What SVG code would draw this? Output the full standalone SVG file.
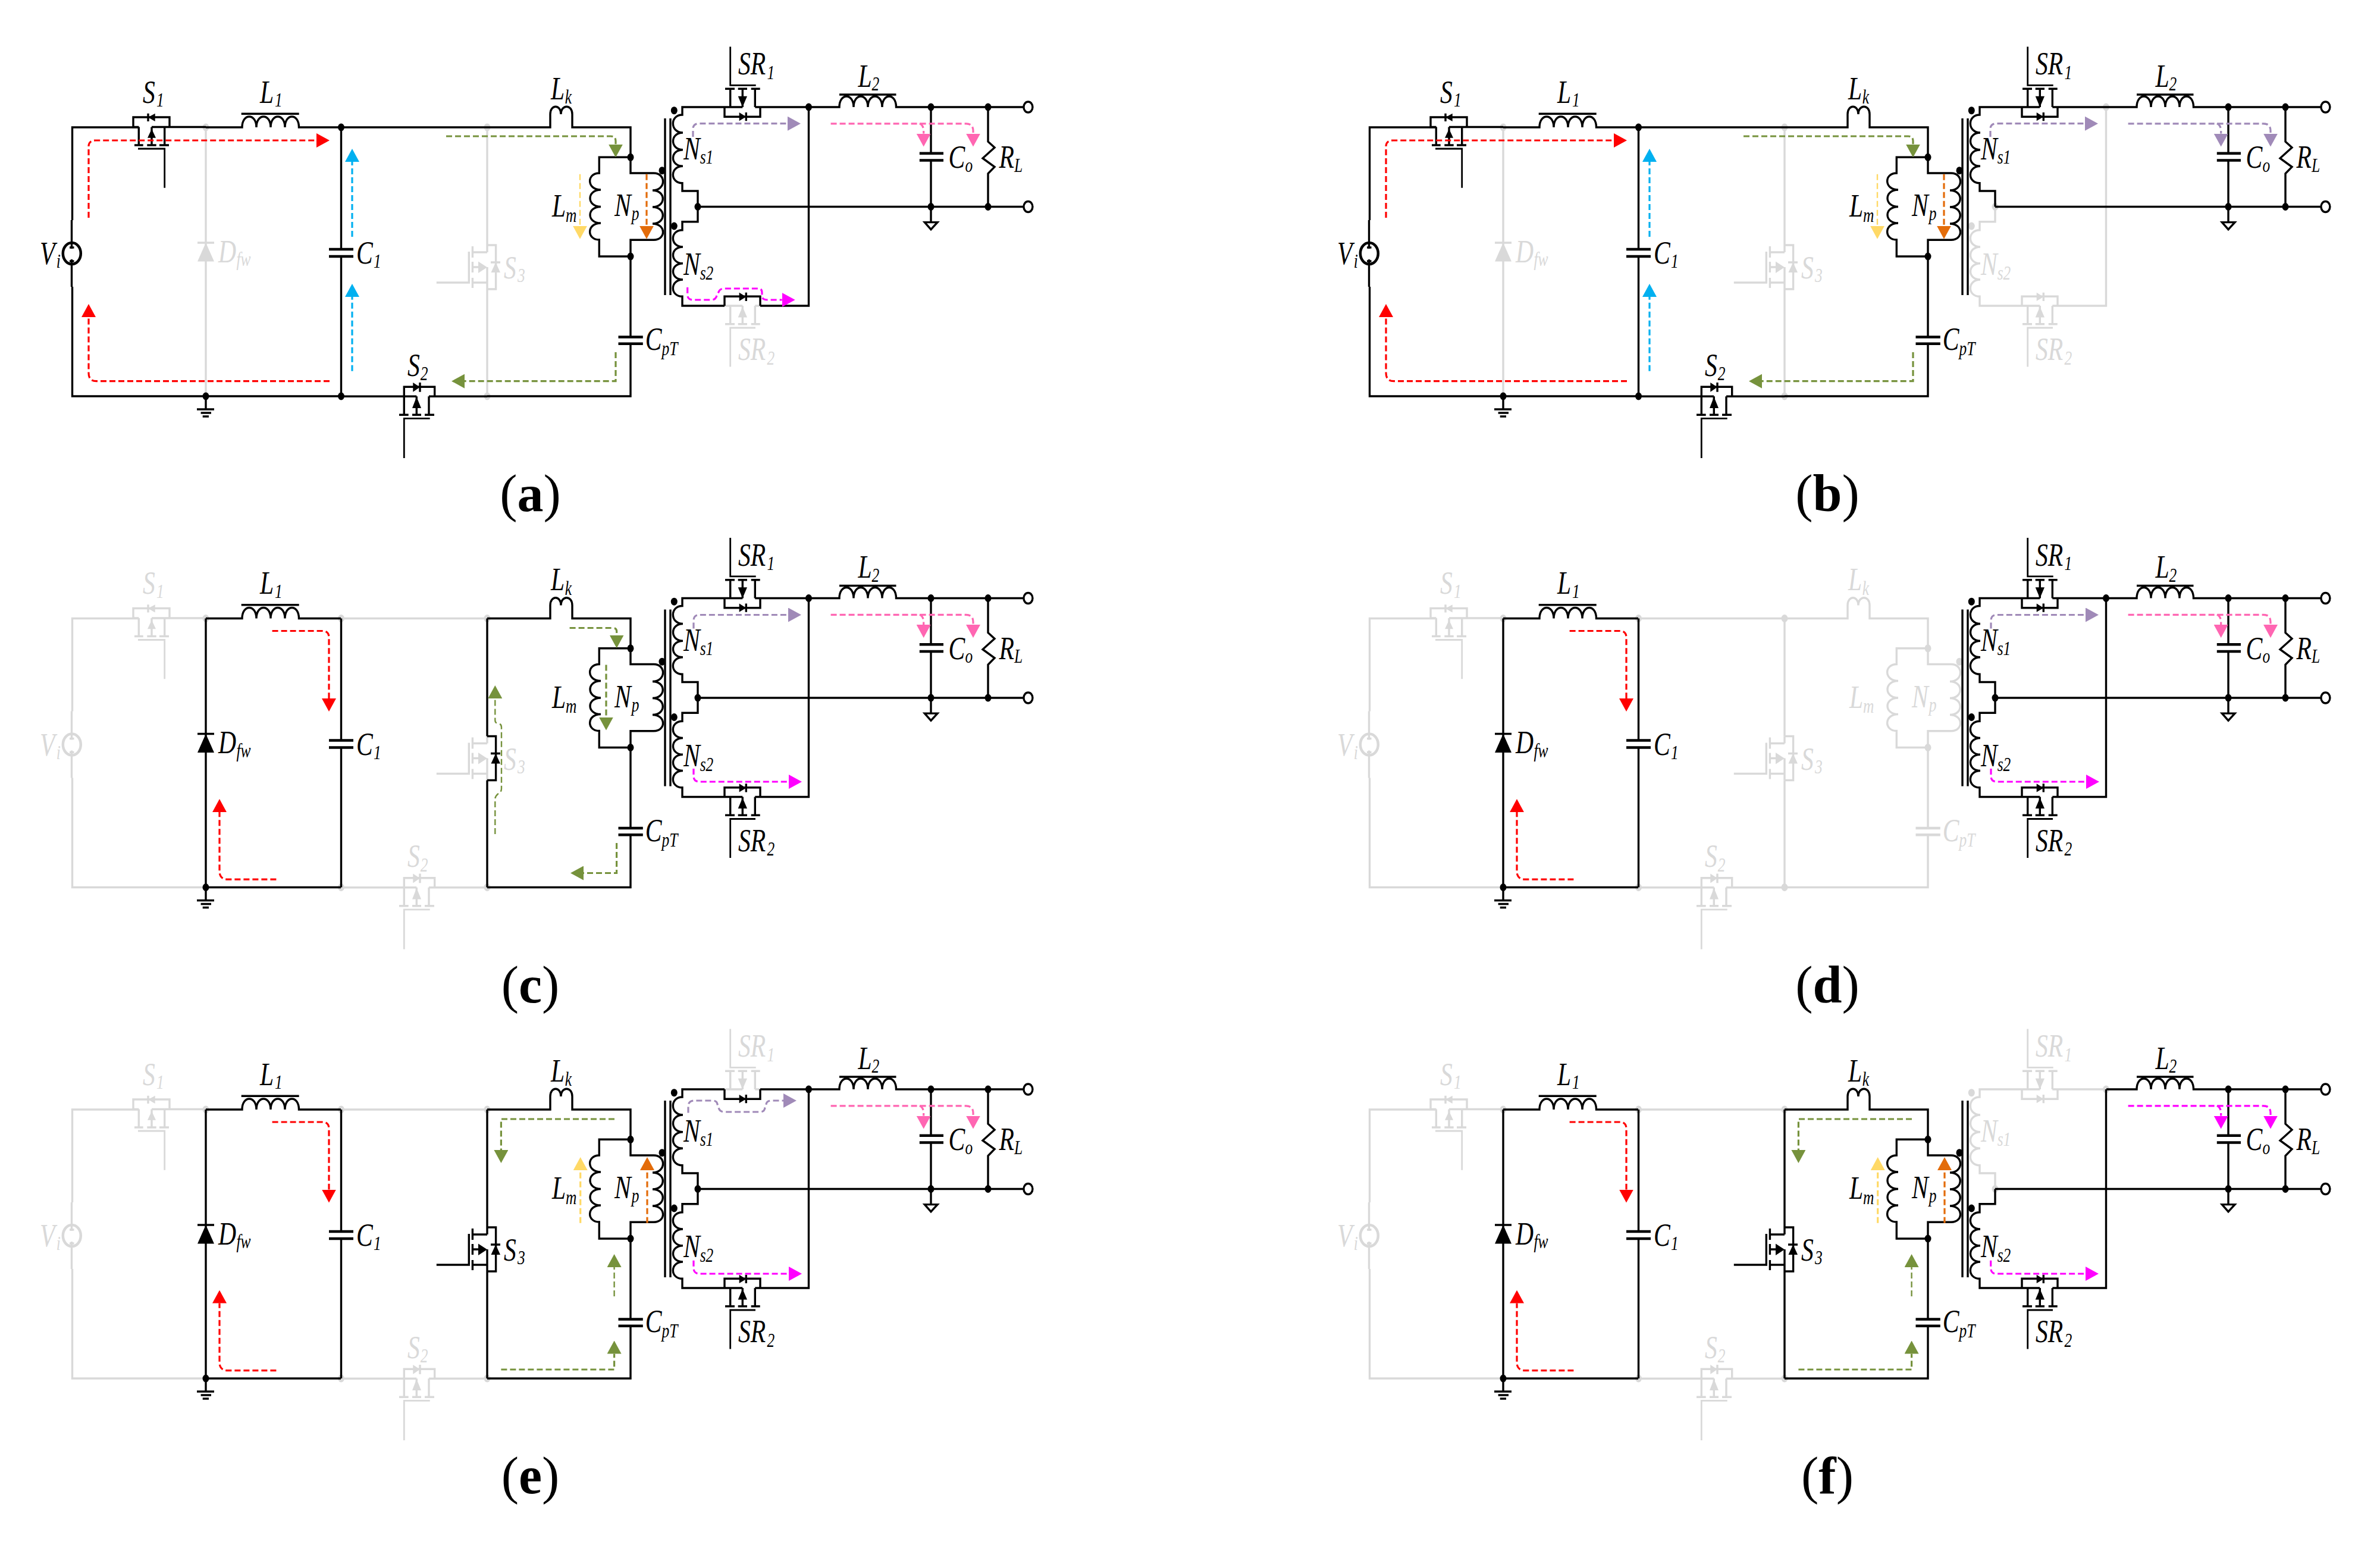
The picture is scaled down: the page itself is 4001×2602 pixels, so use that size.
<svg xmlns="http://www.w3.org/2000/svg" width="4001" height="2602" viewBox="0 0 4001 2602">
<style>
.on{color:#000}.off{color:#d9d9d9}
.w{fill:none;stroke:currentColor;stroke-width:3.4}
.b{fill:none;stroke:currentColor;stroke-width:4.5}
.n{fill:none;stroke:currentColor;stroke-width:2.8}
.f{fill:currentColor;stroke:none}
.t{font:italic 54px "Liberation Serif",serif;fill:currentColor}
.s{font-size:33px}
.cap{font:88px "Liberation Serif",serif;text-anchor:middle;fill:#000}
.cap tspan{font-weight:bold}
.a{fill:none;stroke-width:3.2;stroke-dasharray:10 5}
.red{stroke:#f00;marker-end:url(#hr)}
.blu{stroke:#00b0f0;marker-end:url(#hb)}
.grn{stroke:#76923c;marker-end:url(#hg)}
.yel{stroke:#ffd966;marker-end:url(#hy)}
.org{stroke:#e36c0a;marker-end:url(#ho)}
.pur{stroke:#a08ab8;marker-end:url(#hp)}
.pnk{stroke:#ff66b2;marker-end:url(#hk)}
.mag{stroke:#f0f;marker-end:url(#hm)}
.hair{stroke-width:2.4}
</style>
<defs>
<marker id="hr" markerUnits="userSpaceOnUse" markerWidth="22" markerHeight="24" viewBox="0 -12 22 24" refX="0" refY="0" orient="auto"><path d="M0-12L22 0L0 12z" fill="#f00"/></marker>
<marker id="hb" markerUnits="userSpaceOnUse" markerWidth="22" markerHeight="24" viewBox="0 -12 22 24" refX="0" refY="0" orient="auto"><path d="M0-12L22 0L0 12z" fill="#00b0f0"/></marker>
<marker id="hg" markerUnits="userSpaceOnUse" markerWidth="22" markerHeight="24" viewBox="0 -12 22 24" refX="0" refY="0" orient="auto"><path d="M0-12L22 0L0 12z" fill="#76923c"/></marker>
<marker id="hy" markerUnits="userSpaceOnUse" markerWidth="22" markerHeight="24" viewBox="0 -12 22 24" refX="0" refY="0" orient="auto"><path d="M0-12L22 0L0 12z" fill="#ffd966"/></marker>
<marker id="ho" markerUnits="userSpaceOnUse" markerWidth="22" markerHeight="24" viewBox="0 -12 22 24" refX="0" refY="0" orient="auto"><path d="M0-12L22 0L0 12z" fill="#e36c0a"/></marker>
<marker id="hp" markerUnits="userSpaceOnUse" markerWidth="22" markerHeight="24" viewBox="0 -12 22 24" refX="0" refY="0" orient="auto"><path d="M0-12L22 0L0 12z" fill="#a08ab8"/></marker>
<marker id="hk" markerUnits="userSpaceOnUse" markerWidth="22" markerHeight="24" viewBox="0 -12 22 24" refX="0" refY="0" orient="auto"><path d="M0-12L22 0L0 12z" fill="#ff66b2"/></marker>
<marker id="hm" markerUnits="userSpaceOnUse" markerWidth="22" markerHeight="24" viewBox="0 -12 22 24" refX="0" refY="0" orient="auto"><path d="M0-12L22 0L0 12z" fill="#f0f"/></marker>

<g id="Vi"><path class="w" d="M121.5 370V214H233.3M121.5 482V666H346M120.5 370V418M120.5 436V482M117 416H124.5M117 439H124.5"/><ellipse class="b" cx="120.8" cy="426" rx="15" ry="18"/></g>
<g id="S1"><path class="w" d="M255 213.5H346M233.3 213.5H224V197H285V213.5M233.3 213.5V244M226 244H240.7M255 213.5V244M247.3 244H262.7M276.7 213.5V244M268 244H284M249 190.7V204"/><path class="f" d="M260.7 190.7V204L249 197.3zM255 216.7L262 231.7H248z"/><path class="n" d="M232 250H276.7V315.7"/></g>
<g id="L1"><path class="w" d="M346 214H407C407 190 431 190 431 214C431 190 455 190 455 214C455 190 479 190 479 214C479 190 502.5 190 502.5 214H573M405.7 191.3H502.7M346 666H573"/></g>
<path id="Dfw" class="w" d="M346 214V666M332 408H360"/>
<path id="DfwT" class="f" d="M346 408L360 439.5H332z"/>
<g id="C1"><path class="w" d="M573.5 214V419M573.5 431V666"/><path class="b" d="M553 419H594M553 431H594"/></g>
<g id="Gnd"><path class="w" d="M346 666V688M331 688H360M337.6 694H355M340.7 700H351"/><ellipse class="f" cx="346" cy="666" rx="5.5" ry="6.5"/></g>
<ellipse id="d346" class="f" cx="346" cy="214" rx="5.5" ry="6.5"/>
<g id="d573"><ellipse class="f" cx="573.5" cy="214" rx="5.5" ry="6.5"/><ellipse class="f" cx="573.5" cy="666" rx="5.5" ry="6.5"/></g>
<g id="d819"><ellipse class="f" cx="819" cy="214" rx="5.5" ry="6.5"/><ellipse class="f" cx="819" cy="666" rx="5.5" ry="6.5"/></g>
<g id="S2"><path class="w" d="M573 214H819M573 666.3H700.3M721 666.3H819M679.3 666.3V650.3H730.7V666.3M679.3 666.3V697.3M671 697.3H686.7M700.3 666.3V697.3M693 697.3H708M721 666.3V697.3M714 697.3H730M706 643V658.7"/><path class="f" d="M694.3 643V658.7L706 650.8zM700.3 667L708 686H693z"/><path class="n" d="M722.7 703.3H679.3V770"/></g>
<path id="rail" class="w" d="M819 214V412M819 486V666"/>
<g id="S3m"><path class="w" d="M819 412V424M819 449V486M794.4 424H819M794.4 475H819M794.4 449H806M794.4 414V433M794.4 440V458M794.4 467V484M788.3 423V475H733.8"/><path class="f" d="M804 439.6V459L819 449.3z"/></g>
<g id="S3d"><path class="w" d="M819 412H833.6V486H819M825 441H841"/><path class="f" d="M833.3 441L841 458H825.5z"/></g>
<g id="Lk"><path class="w" d="M819 214H925V192C925 175 943 175 943 192C943 175 962 175 962 192V214H1060V264.3"/></g>
<g id="Lm"><path class="w" d="M1060 264.3H1007.3V291C986 291 986 319 1010 319C986 319 986 347.5 1010 347.5C986 347.5 986 375 1010 375C986 375 986 403 1007.3 403V431H1060"/><ellipse class="f" cx="1060" cy="264.3" rx="5.5" ry="6.5"/><ellipse class="f" cx="1060" cy="431" rx="5.5" ry="6.5"/></g>
<g id="Np"><path class="w" d="M1060 264.3V291H1099C1120 291 1120 320 1097 320C1120 320 1120 348 1097 348C1120 348 1120 376 1097 376C1120 376 1120 403.3 1099 403.3H1060V431"/><ellipse class="f" cx="1113" cy="286.7" rx="5.5" ry="6.5"/></g>
<g id="CpT"><path class="w" d="M1060 431V566.6M1060 577.7V666H819"/><path class="b" d="M1039.5 566.6H1080.8M1039.5 577.7H1080.8"/></g>
<path id="Core" class="w" d="M1118 199V496M1127 199V496"/>
<g id="Ns1"><path class="w" d="M1278 180H1360M1218 180H1147V193C1126 193 1126 223 1148 223C1126 223 1126 251.7 1148 251.7C1126 251.7 1126 279.3 1148 279.3C1126 279.3 1126 307.7 1147 307.7V321H1173V347.5"/><ellipse class="f" cx="1133.3" cy="185.7" rx="5.5" ry="6.5"/></g>
<g id="Ns2"><path class="w" d="M1173 347.5V372.7H1147V386.7C1126 386.7 1126 415 1148 415C1126 415 1126 442.7 1148 442.7C1126 442.7 1126 470 1148 470C1126 470 1126 498.3 1147 498.3V514H1218M1278 514H1359.5V180"/><ellipse class="f" cx="1133.3" cy="380" rx="5.5" ry="6.5"/></g>
<g id="SR1m"><path class="w" d="M1218 180H1248.3M1269.3 180H1278M1227.7 180V149.3M1219 149.3H1235M1248.3 180V149.3M1240.7 149.3H1256M1269.3 180V149.3M1262.7 149.3H1277.7"/><path class="f" d="M1248.3 180L1256 161.7H1240.7z"/><path class="n" d="M1270.7 143.3H1227.7V78.4"/></g>
<g id="SR1d"><path class="w" d="M1218 180V196.3H1278V180M1254.3 189V203.3"/><path class="f" d="M1242.7 189V203.3L1254.3 196.2z"/></g>
<g id="SR2m"><path class="w" d="M1218 514H1248.3M1269.3 514H1278M1227.7 514V544.7M1219 544.7H1235M1248.3 514V544.7M1240.7 544.7H1256M1269.3 514V544.7M1262.7 544.7H1277.7"/><path class="f" d="M1248.3 515.6L1256 533.6H1240.7z"/><path class="n" d="M1270 551H1227.7V616.5"/></g>
<g id="SR2d"><path class="w" d="M1218 514V498.3H1278V514M1254.3 491.7V506"/><path class="f" d="M1242.7 491.7V506L1254.3 498.9z"/></g>
<ellipse id="dC" class="f" cx="1173" cy="347.5" rx="5.5" ry="6.5"/>
<ellipse id="dR" class="f" cx="1359.5" cy="180" rx="5.5" ry="6.5"/>
<g id="L2"><path class="w" d="M1360 180H1411C1411 156 1435 156 1435 180C1435 156 1459 156 1459 180C1459 156 1483 156 1483 180C1483 156 1506.5 156 1506.5 180H1565M1411 159H1506.5"/></g>
<g id="Co"><path class="w" d="M1565 180V257.8M1565 269.4V373.6M1554.4 373.6H1576L1565 385.7z"/><path class="b" d="M1545.8 257.8H1586M1545.8 269.4H1586"/><ellipse class="f" cx="1565" cy="180" rx="5.5" ry="6.5"/><ellipse class="f" cx="1565" cy="347.5" rx="5.5" ry="6.5"/></g>
<g id="RL"><path class="w" d="M1661 180V238L1672 248L1652 266L1672 280.5L1661 291.7V347.5"/><ellipse class="f" cx="1661" cy="180" rx="5.5" ry="6.5"/><ellipse class="f" cx="1661" cy="347.5" rx="5.5" ry="6.5"/></g>
<g id="Out"><path class="w" d="M1565 180H1720.7M1173 347.5H1720.7"/><ellipse class="w" cx="1728.4" cy="180" rx="7.5" ry="9"/><ellipse class="w" cx="1728.4" cy="347.5" rx="7.5" ry="9"/></g>
</defs>
<rect width="4001" height="2602" fill="#fff"/>

<!-- panel a -->
<g id="panel-a">
<g id="a-off-dots" class="off"><use href="#d346"/><use href="#d819"/></g>
<g id="a-Dfw" class="off"><use href="#Dfw"/><use href="#DfwT"/><text class="t" transform="translate(367 440.5) scale(.77 1)">D<tspan class="s" x="39.5" y="6.5">fw</tspan></text></g>
<g id="a-S3" class="off"><use href="#rail"/><use href="#S3m"/><use href="#S3d"/><text class="t" transform="translate(847 468) scale(.77 1)">S<tspan class="s" x="29.9" y="6">3</tspan></text></g>
<g id="a-SR2m" class="off"><use href="#SR2m"/><text class="t" transform="translate(1241 605) scale(.77 1)">SR<tspan class="s" x="62.9" y="7.6">2</tspan></text></g>
<g id="a-Vi" class="on"><use href="#Vi"/><text class="t" transform="translate(67 444) scale(.77 1)">V<tspan class="s" x="36" y="6">i</tspan></text></g>
<g id="a-S1" class="on"><use href="#S1"/><text class="t" transform="translate(240 172.5) scale(.77 1)">S<tspan class="s" x="29.9" y="6.5">1</tspan></text></g>
<g id="a-L1" class="on"><use href="#L1"/><text class="t" transform="translate(437 172.5) scale(.77 1)">L<tspan class="s" x="32.5" y="6.5">1</tspan></text></g>
<g id="a-C1" class="on"><use href="#C1"/><use href="#d573"/><text class="t" transform="translate(599 443) scale(.77 1)">C<tspan class="s" x="37.7" y="7">1</tspan></text></g>
<g id="a-Gnd" class="on"><use href="#Gnd"/></g>
<g id="a-S2" class="on"><use href="#S2"/><text class="t" transform="translate(685 631.7) scale(.77 1)">S<tspan class="s" x="28.2" y="7.3">2</tspan></text></g>
<g id="a-Lk" class="on"><use href="#Lk"/><text class="t" transform="translate(926 166.6) scale(.77 1)">L<tspan class="s" x="31" y="7.4">k</tspan></text></g>
<g id="a-Lm" class="on"><use href="#Lm"/><text class="t" transform="translate(928 364.4) scale(.77 1)">L<tspan class="s" x="30" y="8.2">m</tspan></text></g>
<g id="a-Np" class="on"><use href="#Np"/><text class="t" transform="translate(1033 363) scale(.77 1)">N<tspan class="s" x="37.3" y="7">p</tspan></text></g>
<g id="a-CpT" class="on"><use href="#CpT"/><text class="t" transform="translate(1084.8 588.4) scale(.77 1)">C<tspan class="s" x="36" y="8.6">pT</tspan></text></g>
<g id="a-Core" class="on"><use href="#Core"/></g>
<g id="a-Ns1" class="on"><use href="#Ns1"/><text class="t" transform="translate(1149 268) scale(.77 1)">N<tspan class="s" x="36" y="7">s1</tspan></text></g>
<g id="a-Ns2" class="on"><use href="#Ns2"/><text class="t" transform="translate(1149 462.3) scale(.77 1)">N<tspan class="s" x="36" y="7.7">s2</tspan></text></g>
<g id="a-SR1" class="on"><use href="#SR1m"/><use href="#SR1d"/><text class="t" transform="translate(1241 125.4) scale(.77 1)">SR<tspan class="s" x="62.9" y="7.3">1</tspan></text></g>
<g id="a-SR2d" class="on"><use href="#SR2d"/></g>
<g id="a-dots" class="on"><use href="#dC"/><use href="#dR"/></g>
<g id="a-L2" class="on"><use href="#L2"/><text class="t" transform="translate(1442.5 145.8) scale(.77 1)">L<tspan class="s" x="30" y="6.2">2</tspan></text></g>
<g id="a-Co" class="on"><use href="#Co"/><text class="t" transform="translate(1594.6 282) scale(.77 1)">C<tspan class="s" x="36.2" y="6.8">o</tspan></text></g>
<g id="a-RL" class="on"><use href="#RL"/><text class="t" transform="translate(1679.6 282) scale(.77 1)">R<tspan class="s" x="33" y="6.8">L</tspan></text></g>
<g id="a-Out" class="on"><use href="#Out"/></g>
<g id="a-connectors">
<path class="a red" d="M149 366V246Q149 236 161 236H532"/>
<path class="a red" d="M554 640.7H162Q149 640.7 149 627V533"/>
<path class="a blu" d="M592 398V272"/>
<path class="a blu" d="M592 623.7V499"/>
<path class="a grn" d="M750 229H1027Q1035 229 1035 237V242.6"/>
<path class="a grn" d="M1035 592V640.7H781"/>
<path class="a yel hair" d="M975 292.7V379.7"/>
<path class="a org" d="M1087 292.7V379.7"/>
<path class="a pur" d="M1165 230V217Q1165 207.7 1175 207.7H1324"/>
<path class="a mag" d="M1155.7 483V495Q1155.7 504 1165 504H1196Q1203 504 1205 497L1209 489Q1211 485 1218 485H1275Q1281 485 1281 492V497Q1281 504 1290 504H1314.7"/>
<path class="a pnk" d="M1396.6 207.8H1624Q1636 207.8 1636 220V224.6"/>
<path class="a pnk" d="M1545.8 207.8Q1552.7 210 1552.7 221V224.6"/>
</g>
<text class="cap" x="891.5" y="859">(<tspan>a</tspan>)</text>
</g>

<!-- panel b -->
<g id="panel-b" transform="translate(2181,0)">
<g id="b-off-dots" class="off"><use href="#d346"/><use href="#d819"/><use href="#dC"/><use href="#dR"/></g>
<g id="b-Dfw" class="off"><use href="#Dfw"/><use href="#DfwT"/><text class="t" transform="translate(367 440.5) scale(.77 1)">D<tspan class="s" x="39.5" y="6.5">fw</tspan></text></g>
<g id="b-S3" class="off"><use href="#rail"/><use href="#S3m"/><use href="#S3d"/><text class="t" transform="translate(847 468) scale(.77 1)">S<tspan class="s" x="29.9" y="6">3</tspan></text></g>
<g id="b-SR2" class="off"><use href="#SR2m"/><use href="#SR2d"/><text class="t" transform="translate(1241 605) scale(.77 1)">SR<tspan class="s" x="62.9" y="7.6">2</tspan></text></g>
<g id="b-Ns2" class="off"><use href="#Ns2"/><text class="t" transform="translate(1149 462.3) scale(.77 1)">N<tspan class="s" x="36" y="7.7">s2</tspan></text></g>
<g id="b-Vi" class="on"><use href="#Vi"/><text class="t" transform="translate(67 444) scale(.77 1)">V<tspan class="s" x="36" y="6">i</tspan></text></g>
<g id="b-S1" class="on"><use href="#S1"/><text class="t" transform="translate(240 172.5) scale(.77 1)">S<tspan class="s" x="29.9" y="6.5">1</tspan></text></g>
<g id="b-L1" class="on"><use href="#L1"/><text class="t" transform="translate(437 172.5) scale(.77 1)">L<tspan class="s" x="32.5" y="6.5">1</tspan></text></g>
<g id="b-C1" class="on"><use href="#C1"/><use href="#d573"/><text class="t" transform="translate(599 443) scale(.77 1)">C<tspan class="s" x="37.7" y="7">1</tspan></text></g>
<g id="b-Gnd" class="on"><use href="#Gnd"/></g>
<g id="b-S2" class="on"><use href="#S2"/><text class="t" transform="translate(685 631.7) scale(.77 1)">S<tspan class="s" x="28.2" y="7.3">2</tspan></text></g>
<g id="b-Lk" class="on"><use href="#Lk"/><text class="t" transform="translate(926 166.6) scale(.77 1)">L<tspan class="s" x="31" y="7.4">k</tspan></text></g>
<g id="b-Lm" class="on"><use href="#Lm"/><text class="t" transform="translate(928 364.4) scale(.77 1)">L<tspan class="s" x="30" y="8.2">m</tspan></text></g>
<g id="b-Np" class="on"><use href="#Np"/><text class="t" transform="translate(1033 363) scale(.77 1)">N<tspan class="s" x="37.3" y="7">p</tspan></text></g>
<g id="b-CpT" class="on"><use href="#CpT"/><text class="t" transform="translate(1084.8 588.4) scale(.77 1)">C<tspan class="s" x="36" y="8.6">pT</tspan></text></g>
<g id="b-Core" class="on"><use href="#Core"/></g>
<g id="b-Ns1" class="on"><use href="#Ns1"/><text class="t" transform="translate(1149 268) scale(.77 1)">N<tspan class="s" x="36" y="7">s1</tspan></text></g>
<g id="b-SR1" class="on"><use href="#SR1m"/><use href="#SR1d"/><text class="t" transform="translate(1241 125.4) scale(.77 1)">SR<tspan class="s" x="62.9" y="7.3">1</tspan></text></g>
<g id="b-L2" class="on"><use href="#L2"/><text class="t" transform="translate(1442.5 145.8) scale(.77 1)">L<tspan class="s" x="30" y="6.2">2</tspan></text></g>
<g id="b-Co" class="on"><use href="#Co"/><text class="t" transform="translate(1594.6 282) scale(.77 1)">C<tspan class="s" x="36.2" y="6.8">o</tspan></text></g>
<g id="b-RL" class="on"><use href="#RL"/><text class="t" transform="translate(1679.6 282) scale(.77 1)">R<tspan class="s" x="33" y="6.8">L</tspan></text></g>
<g id="b-Out" class="on"><use href="#Out"/></g>
<g id="b-connectors">
<path class="a red" d="M149 366V246Q149 236 161 236H532"/>
<path class="a red" d="M554 640.7H162Q149 640.7 149 627V533"/>
<path class="a blu" d="M592 398V272"/>
<path class="a blu" d="M592 623.7V499"/>
<path class="a grn" d="M750 229H1027Q1035 229 1035 237V242.6"/>
<path class="a grn" d="M1035 592V640.7H781"/>
<path class="a yel hair" d="M975 292.7V379.7"/>
<path class="a org" d="M1087 292.7V379.7"/>
<path class="a pur" d="M1165 230V217Q1165 207.7 1175 207.7H1324"/>
<path class="a pur" d="M1396.6 207.8H1624Q1636 207.8 1636 220V224.6"/>
<path class="a pur" d="M1545.8 207.8Q1552.7 210 1552.7 221V224.6"/>
</g>
<text class="cap" x="891" y="859">(<tspan>b</tspan>)</text>
</g>

<!-- panel c -->
<g id="panel-c" transform="translate(0,825.5)">
<g id="c-off-dots" class="off"><use href="#d346"/><use href="#d819"/><use href="#d573"/></g>
<g id="c-Vi" class="off"><use href="#Vi"/><text class="t" transform="translate(67 444) scale(.77 1)">V<tspan class="s" x="36" y="6">i</tspan></text></g>
<g id="c-S1" class="off"><use href="#S1"/><text class="t" transform="translate(240 172.5) scale(.77 1)">S<tspan class="s" x="29.9" y="6.5">1</tspan></text></g>
<g id="c-S2" class="off"><use href="#S2"/><text class="t" transform="translate(685 631.7) scale(.77 1)">S<tspan class="s" x="28.2" y="7.3">2</tspan></text></g>
<g id="c-S3" class="off"><use href="#S3m"/><text class="t" transform="translate(847 468) scale(.77 1)">S<tspan class="s" x="29.9" y="6">3</tspan></text></g>
<g id="c-L1" class="on"><use href="#L1"/><text class="t" transform="translate(437 172.5) scale(.77 1)">L<tspan class="s" x="32.5" y="6.5">1</tspan></text></g>
<g id="c-Dfw" class="on"><use href="#Dfw"/><use href="#DfwT"/><text class="t" transform="translate(367 440.5) scale(.77 1)">D<tspan class="s" x="39.5" y="6.5">fw</tspan></text></g>
<g id="c-C1" class="on"><use href="#C1"/><text class="t" transform="translate(599 443) scale(.77 1)">C<tspan class="s" x="37.7" y="7">1</tspan></text></g>
<g id="c-Gnd" class="on"><use href="#Gnd"/></g>
<g id="c-S3d" class="on"><use href="#rail"/><use href="#S3d"/></g>
<g id="c-Lk" class="on"><use href="#Lk"/><text class="t" transform="translate(926 166.6) scale(.77 1)">L<tspan class="s" x="31" y="7.4">k</tspan></text></g>
<g id="c-Lm" class="on"><use href="#Lm"/><text class="t" transform="translate(928 364.4) scale(.77 1)">L<tspan class="s" x="30" y="8.2">m</tspan></text></g>
<g id="c-Np" class="on"><use href="#Np"/><text class="t" transform="translate(1033 363) scale(.77 1)">N<tspan class="s" x="37.3" y="7">p</tspan></text></g>
<g id="c-CpT" class="on"><use href="#CpT"/><text class="t" transform="translate(1084.8 588.4) scale(.77 1)">C<tspan class="s" x="36" y="8.6">pT</tspan></text></g>
<g id="c-Core" class="on"><use href="#Core"/></g>
<g id="c-Ns1" class="on"><use href="#Ns1"/><text class="t" transform="translate(1149 268) scale(.77 1)">N<tspan class="s" x="36" y="7">s1</tspan></text></g>
<g id="c-Ns2" class="on"><use href="#Ns2"/><text class="t" transform="translate(1149 462.3) scale(.77 1)">N<tspan class="s" x="36" y="7.7">s2</tspan></text></g>
<g id="c-SR1" class="on"><use href="#SR1m"/><use href="#SR1d"/><text class="t" transform="translate(1241 125.4) scale(.77 1)">SR<tspan class="s" x="62.9" y="7.3">1</tspan></text></g>
<g id="c-SR2" class="on"><use href="#SR2m"/><use href="#SR2d"/><text class="t" transform="translate(1241 605) scale(.77 1)">SR<tspan class="s" x="62.9" y="7.6">2</tspan></text></g>
<g id="c-dots" class="on"><use href="#dC"/><use href="#dR"/></g>
<g id="c-L2" class="on"><use href="#L2"/><text class="t" transform="translate(1442.5 145.8) scale(.77 1)">L<tspan class="s" x="30" y="6.2">2</tspan></text></g>
<g id="c-Co" class="on"><use href="#Co"/><text class="t" transform="translate(1594.6 282) scale(.77 1)">C<tspan class="s" x="36.2" y="6.8">o</tspan></text></g>
<g id="c-RL" class="on"><use href="#RL"/><text class="t" transform="translate(1679.6 282) scale(.77 1)">R<tspan class="s" x="33" y="6.8">L</tspan></text></g>
<g id="c-Out" class="on"><use href="#Out"/></g>
<g id="c-connectors">
<path class="a red" d="M457.6 235H542Q553 235 553 246V348.5"/>
<path class="a red" d="M464.4 652.6H383Q369 652.6 369 639V539.6"/>
<path class="a grn" d="M957.6 230H1030Q1036.7 230 1036.7 236V242"/>
<path class="a grn" d="M1019 292V380"/>
<path class="a grn hair" d="M832.3 576.5V518Q832.3 513 837 509Q843 506 843 500V397Q843 391 837 390.5Q832.3 390 832.3 385V348.6"/>
<path class="a grn" d="M1036.6 591.6V642H981"/>
<path class="a pur" d="M1166 231V218Q1166 208 1176 208H1325"/>
<path class="a mag" d="M1166 466.5V479Q1166 488.5 1176 488.5H1326"/>
<path class="a pnk" d="M1396.6 207.8H1624Q1636 207.8 1636 220V224.6"/>
<path class="a pnk" d="M1545.8 207.8Q1552.7 210 1552.7 221V224.6"/>
</g>
<text class="cap" x="891.5" y="859">(<tspan>c</tspan>)</text>
</g>

<!-- panel d -->
<g id="panel-d" transform="translate(2181,825.5)">
<g id="d-off-dots" class="off"><use href="#d346"/><use href="#d819"/><use href="#d573"/></g>
<g id="d-Vi" class="off"><use href="#Vi"/><text class="t" transform="translate(67 444) scale(.77 1)">V<tspan class="s" x="36" y="6">i</tspan></text></g>
<g id="d-S1" class="off"><use href="#S1"/><text class="t" transform="translate(240 172.5) scale(.77 1)">S<tspan class="s" x="29.9" y="6.5">1</tspan></text></g>
<g id="d-S2" class="off"><use href="#S2"/><text class="t" transform="translate(685 631.7) scale(.77 1)">S<tspan class="s" x="28.2" y="7.3">2</tspan></text></g>
<g id="d-S3" class="off"><use href="#rail"/><use href="#S3m"/><use href="#S3d"/><text class="t" transform="translate(847 468) scale(.77 1)">S<tspan class="s" x="29.9" y="6">3</tspan></text></g>
<g id="d-Lk" class="off"><use href="#Lk"/><text class="t" transform="translate(926 166.6) scale(.77 1)">L<tspan class="s" x="31" y="7.4">k</tspan></text></g>
<g id="d-Lm" class="off"><use href="#Lm"/><text class="t" transform="translate(928 364.4) scale(.77 1)">L<tspan class="s" x="30" y="8.2">m</tspan></text></g>
<g id="d-Np" class="off"><use href="#Np"/><text class="t" transform="translate(1033 363) scale(.77 1)">N<tspan class="s" x="37.3" y="7">p</tspan></text></g>
<g id="d-CpT" class="off"><use href="#CpT"/><text class="t" transform="translate(1084.8 588.4) scale(.77 1)">C<tspan class="s" x="36" y="8.6">pT</tspan></text></g>
<g id="d-L1" class="on"><use href="#L1"/><text class="t" transform="translate(437 172.5) scale(.77 1)">L<tspan class="s" x="32.5" y="6.5">1</tspan></text></g>
<g id="d-Dfw" class="on"><use href="#Dfw"/><use href="#DfwT"/><text class="t" transform="translate(367 440.5) scale(.77 1)">D<tspan class="s" x="39.5" y="6.5">fw</tspan></text></g>
<g id="d-C1" class="on"><use href="#C1"/><text class="t" transform="translate(599 443) scale(.77 1)">C<tspan class="s" x="37.7" y="7">1</tspan></text></g>
<g id="d-Gnd" class="on"><use href="#Gnd"/></g>
<g id="d-Core" class="on"><use href="#Core"/></g>
<g id="d-Ns1" class="on"><use href="#Ns1"/><text class="t" transform="translate(1149 268) scale(.77 1)">N<tspan class="s" x="36" y="7">s1</tspan></text></g>
<g id="d-Ns2" class="on"><use href="#Ns2"/><text class="t" transform="translate(1149 462.3) scale(.77 1)">N<tspan class="s" x="36" y="7.7">s2</tspan></text></g>
<g id="d-SR1" class="on"><use href="#SR1m"/><use href="#SR1d"/><text class="t" transform="translate(1241 125.4) scale(.77 1)">SR<tspan class="s" x="62.9" y="7.3">1</tspan></text></g>
<g id="d-SR2" class="on"><use href="#SR2m"/><use href="#SR2d"/><text class="t" transform="translate(1241 605) scale(.77 1)">SR<tspan class="s" x="62.9" y="7.6">2</tspan></text></g>
<g id="d-dots" class="on"><use href="#dC"/><use href="#dR"/></g>
<g id="d-L2" class="on"><use href="#L2"/><text class="t" transform="translate(1442.5 145.8) scale(.77 1)">L<tspan class="s" x="30" y="6.2">2</tspan></text></g>
<g id="d-Co" class="on"><use href="#Co"/><text class="t" transform="translate(1594.6 282) scale(.77 1)">C<tspan class="s" x="36.2" y="6.8">o</tspan></text></g>
<g id="d-RL" class="on"><use href="#RL"/><text class="t" transform="translate(1679.6 282) scale(.77 1)">R<tspan class="s" x="33" y="6.8">L</tspan></text></g>
<g id="d-Out" class="on"><use href="#Out"/></g>
<g id="d-connectors">
<path class="a red" d="M457.6 235H542Q553 235 553 246V348.5"/>
<path class="a red" d="M464.4 652.6H383Q369 652.6 369 639V539.6"/>
<path class="a pur" d="M1166 231V218Q1166 208 1176 208H1325"/>
<path class="a mag" d="M1166 466.5V479Q1166 488.5 1176 488.5H1326"/>
<path class="a pnk" d="M1396.6 207.8H1624Q1636 207.8 1636 220V224.6"/>
<path class="a pnk" d="M1545.8 207.8Q1552.7 210 1552.7 221V224.6"/>
</g>
<text class="cap" x="891" y="859">(<tspan>d</tspan>)</text>
</g>

<!-- panel e -->
<g id="panel-e" transform="translate(0,1651)">
<g id="e-off-dots" class="off"><use href="#d346"/><use href="#d819"/><use href="#d573"/></g>
<g id="e-Vi" class="off"><use href="#Vi"/><text class="t" transform="translate(67 444) scale(.77 1)">V<tspan class="s" x="36" y="6">i</tspan></text></g>
<g id="e-S1" class="off"><use href="#S1"/><text class="t" transform="translate(240 172.5) scale(.77 1)">S<tspan class="s" x="29.9" y="6.5">1</tspan></text></g>
<g id="e-S2" class="off"><use href="#S2"/><text class="t" transform="translate(685 631.7) scale(.77 1)">S<tspan class="s" x="28.2" y="7.3">2</tspan></text></g>
<g id="e-SR1m" class="off"><use href="#SR1m"/><text class="t" transform="translate(1241 125.4) scale(.77 1)">SR<tspan class="s" x="62.9" y="7.3">1</tspan></text></g>
<g id="e-L1" class="on"><use href="#L1"/><text class="t" transform="translate(437 172.5) scale(.77 1)">L<tspan class="s" x="32.5" y="6.5">1</tspan></text></g>
<g id="e-Dfw" class="on"><use href="#Dfw"/><use href="#DfwT"/><text class="t" transform="translate(367 440.5) scale(.77 1)">D<tspan class="s" x="39.5" y="6.5">fw</tspan></text></g>
<g id="e-C1" class="on"><use href="#C1"/><text class="t" transform="translate(599 443) scale(.77 1)">C<tspan class="s" x="37.7" y="7">1</tspan></text></g>
<g id="e-Gnd" class="on"><use href="#Gnd"/></g>
<g id="e-S3" class="on"><use href="#rail"/><use href="#S3m"/><use href="#S3d"/><text class="t" transform="translate(847 468) scale(.77 1)">S<tspan class="s" x="29.9" y="6">3</tspan></text></g>
<g id="e-Lk" class="on"><use href="#Lk"/><text class="t" transform="translate(926 166.6) scale(.77 1)">L<tspan class="s" x="31" y="7.4">k</tspan></text></g>
<g id="e-Lm" class="on"><use href="#Lm"/><text class="t" transform="translate(928 364.4) scale(.77 1)">L<tspan class="s" x="30" y="8.2">m</tspan></text></g>
<g id="e-Np" class="on"><use href="#Np"/><text class="t" transform="translate(1033 363) scale(.77 1)">N<tspan class="s" x="37.3" y="7">p</tspan></text></g>
<g id="e-CpT" class="on"><use href="#CpT"/><text class="t" transform="translate(1084.8 588.4) scale(.77 1)">C<tspan class="s" x="36" y="8.6">pT</tspan></text></g>
<g id="e-Core" class="on"><use href="#Core"/></g>
<g id="e-Ns1" class="on"><use href="#Ns1"/><text class="t" transform="translate(1149 268) scale(.77 1)">N<tspan class="s" x="36" y="7">s1</tspan></text></g>
<g id="e-Ns2" class="on"><use href="#Ns2"/><text class="t" transform="translate(1149 462.3) scale(.77 1)">N<tspan class="s" x="36" y="7.7">s2</tspan></text></g>
<g id="e-SR1d" class="on"><use href="#SR1d"/></g>
<g id="e-SR2" class="on"><use href="#SR2m"/><use href="#SR2d"/><text class="t" transform="translate(1241 605) scale(.77 1)">SR<tspan class="s" x="62.9" y="7.6">2</tspan></text></g>
<g id="e-dots" class="on"><use href="#dC"/><use href="#dR"/></g>
<g id="e-L2" class="on"><use href="#L2"/><text class="t" transform="translate(1442.5 145.8) scale(.77 1)">L<tspan class="s" x="30" y="6.2">2</tspan></text></g>
<g id="e-Co" class="on"><use href="#Co"/><text class="t" transform="translate(1594.6 282) scale(.77 1)">C<tspan class="s" x="36.2" y="6.8">o</tspan></text></g>
<g id="e-RL" class="on"><use href="#RL"/><text class="t" transform="translate(1679.6 282) scale(.77 1)">R<tspan class="s" x="33" y="6.8">L</tspan></text></g>
<g id="e-Out" class="on"><use href="#Out"/></g>
<g id="e-connectors">
<path class="a red" d="M457.6 235H542Q553 235 553 246V348.5"/>
<path class="a red" d="M464.4 652.6H383Q369 652.6 369 639V539.6"/>
<path class="a grn" d="M1033 230H842.4V282"/>
<path class="a grn" d="M842.4 651H1032.6V624.5"/>
<path class="a grn hair" d="M1032.6 528V479"/>
<path class="a yel" d="M975.7 404.7V316"/>
<path class="a org" d="M1088 404.7V316"/>
<path class="a pur" d="M1157 219.5V209Q1157 199 1167 199H1198Q1205 199 1206 205L1208 211Q1210 218 1218 218H1278Q1285 218 1286 211L1288 205Q1289 199 1297 199H1317"/>
<path class="a mag" d="M1166 467.7V480Q1166 490 1176 490H1326"/>
<path class="a pnk" d="M1396.6 207.8H1624Q1636 207.8 1636 220V224.6"/>
<path class="a pnk" d="M1545.8 207.8Q1552.7 210 1552.7 221V224.6"/>
</g>
<text class="cap" x="891.5" y="859">(<tspan>e</tspan>)</text>
</g>

<!-- panel f -->
<g id="panel-f" transform="translate(2181,1651)">
<g id="f-off-dots" class="off"><use href="#d346"/><use href="#d819"/><use href="#d573"/><use href="#dC"/><use href="#dR"/></g>
<g id="f-Vi" class="off"><use href="#Vi"/><text class="t" transform="translate(67 444) scale(.77 1)">V<tspan class="s" x="36" y="6">i</tspan></text></g>
<g id="f-S1" class="off"><use href="#S1"/><text class="t" transform="translate(240 172.5) scale(.77 1)">S<tspan class="s" x="29.9" y="6.5">1</tspan></text></g>
<g id="f-S2" class="off"><use href="#S2"/><text class="t" transform="translate(685 631.7) scale(.77 1)">S<tspan class="s" x="28.2" y="7.3">2</tspan></text></g>
<g id="f-SR1" class="off"><use href="#SR1m"/><use href="#SR1d"/><text class="t" transform="translate(1241 125.4) scale(.77 1)">SR<tspan class="s" x="62.9" y="7.3">1</tspan></text></g>
<g id="f-Ns1" class="off"><use href="#Ns1"/><text class="t" transform="translate(1149 268) scale(.77 1)">N<tspan class="s" x="36" y="7">s1</tspan></text></g>
<g id="f-L1" class="on"><use href="#L1"/><text class="t" transform="translate(437 172.5) scale(.77 1)">L<tspan class="s" x="32.5" y="6.5">1</tspan></text></g>
<g id="f-Dfw" class="on"><use href="#Dfw"/><use href="#DfwT"/><text class="t" transform="translate(367 440.5) scale(.77 1)">D<tspan class="s" x="39.5" y="6.5">fw</tspan></text></g>
<g id="f-C1" class="on"><use href="#C1"/><text class="t" transform="translate(599 443) scale(.77 1)">C<tspan class="s" x="37.7" y="7">1</tspan></text></g>
<g id="f-Gnd" class="on"><use href="#Gnd"/></g>
<g id="f-S3" class="on"><use href="#rail"/><use href="#S3m"/><use href="#S3d"/><text class="t" transform="translate(847 468) scale(.77 1)">S<tspan class="s" x="29.9" y="6">3</tspan></text></g>
<g id="f-Lk" class="on"><use href="#Lk"/><text class="t" transform="translate(926 166.6) scale(.77 1)">L<tspan class="s" x="31" y="7.4">k</tspan></text></g>
<g id="f-Lm" class="on"><use href="#Lm"/><text class="t" transform="translate(928 364.4) scale(.77 1)">L<tspan class="s" x="30" y="8.2">m</tspan></text></g>
<g id="f-Np" class="on"><use href="#Np"/><text class="t" transform="translate(1033 363) scale(.77 1)">N<tspan class="s" x="37.3" y="7">p</tspan></text></g>
<g id="f-CpT" class="on"><use href="#CpT"/><text class="t" transform="translate(1084.8 588.4) scale(.77 1)">C<tspan class="s" x="36" y="8.6">pT</tspan></text></g>
<g id="f-Core" class="on"><use href="#Core"/></g>
<g id="f-Ns2" class="on"><use href="#Ns2"/><text class="t" transform="translate(1149 462.3) scale(.77 1)">N<tspan class="s" x="36" y="7.7">s2</tspan></text></g>
<g id="f-SR2" class="on"><use href="#SR2m"/><use href="#SR2d"/><text class="t" transform="translate(1241 605) scale(.77 1)">SR<tspan class="s" x="62.9" y="7.6">2</tspan></text></g>
<g id="f-L2" class="on"><use href="#L2"/><text class="t" transform="translate(1442.5 145.8) scale(.77 1)">L<tspan class="s" x="30" y="6.2">2</tspan></text></g>
<g id="f-Co" class="on"><use href="#Co"/><text class="t" transform="translate(1594.6 282) scale(.77 1)">C<tspan class="s" x="36.2" y="6.8">o</tspan></text></g>
<g id="f-RL" class="on"><use href="#RL"/><text class="t" transform="translate(1679.6 282) scale(.77 1)">R<tspan class="s" x="33" y="6.8">L</tspan></text></g>
<g id="f-Out" class="on"><use href="#Out"/></g>
<g id="f-connectors">
<path class="a red" d="M457.6 235H542Q553 235 553 246V348.5"/>
<path class="a red" d="M464.4 652.6H383Q369 652.6 369 639V539.6"/>
<path class="a grn" d="M1033 230H842.4V282"/>
<path class="a grn" d="M842.4 651H1032.6V624.5"/>
<path class="a grn hair" d="M1032.6 528V479"/>
<path class="a yel" d="M975.7 404.7V316"/>
<path class="a org" d="M1088 404.7V316"/>
<path class="a mag" d="M1165.7 467.7V480Q1165.7 490 1175 490H1325"/>
<path class="a mag" d="M1396.6 207.8H1624Q1636 207.8 1636 220V224.6"/>
<path class="a mag" d="M1545.8 207.8Q1552.7 210 1552.7 221V224.6"/>
</g>
<text class="cap" x="891" y="859">(<tspan>f</tspan>)</text>
</g>
</svg>
